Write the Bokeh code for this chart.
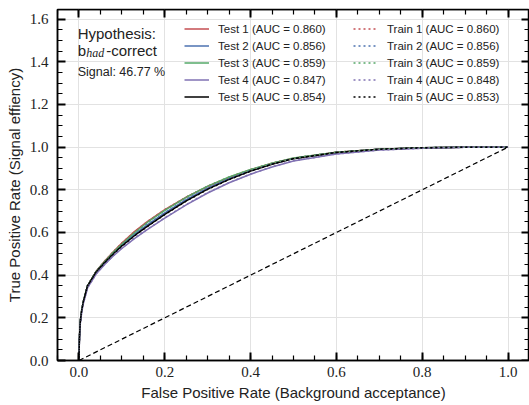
from bokeh.plotting import figure
from bokeh.models import (Range1d, LinearAxis, Legend, LegendItem, Label, FixedTicker,
                          PrintfTickFormatter, CustomJSTickFormatter)
from bokeh.embed import file_html
from bokeh.resources import INLINE

# ---------------- data ----------------
fpr = [0, 0.001, 0.003, 0.006, 0.01, 0.02, 0.04, 0.06, 0.08, 0.1, 0.13, 0.16,
       0.2, 0.25, 0.3, 0.35, 0.4, 0.45, 0.5, 0.6, 0.7, 0.8, 0.9, 1.0]

test1_tpr = [0, 0.1, 0.18, 0.23, 0.275, 0.35, 0.418, 0.466, 0.51, 0.55, 0.605, 0.652,
             0.707, 0.766, 0.816, 0.858, 0.894, 0.924, 0.948, 0.976, 0.99, 0.997, 0.9995, 1.0]
test2_tpr = [0, 0.1, 0.18, 0.23, 0.275, 0.35, 0.416, 0.462, 0.503, 0.541, 0.592, 0.637,
             0.692, 0.754, 0.808, 0.853, 0.891, 0.922, 0.947, 0.975, 0.99, 0.997, 0.9995, 1.0]
test3_tpr = [0, 0.1, 0.18, 0.23, 0.275, 0.35, 0.417, 0.464, 0.507, 0.546, 0.6, 0.648,
             0.704, 0.765, 0.817, 0.86, 0.895, 0.925, 0.949, 0.976, 0.99, 0.997, 0.9995, 1.0]
test4_tpr = [0, 0.09, 0.17, 0.22, 0.265, 0.34, 0.405, 0.45, 0.49, 0.525, 0.572, 0.614,
             0.667, 0.729, 0.785, 0.833, 0.873, 0.907, 0.935, 0.968, 0.986, 0.995, 0.9993, 1.0]
test5_tpr = [0, 0.1, 0.18, 0.23, 0.275, 0.35, 0.415, 0.46, 0.5, 0.537, 0.586, 0.63,
             0.685, 0.748, 0.803, 0.849, 0.888, 0.92, 0.946, 0.975, 0.99, 0.997, 0.9995, 1.0]

train1_tpr = [0, 0.1, 0.18, 0.23, 0.275, 0.35, 0.418, 0.466, 0.51, 0.55, 0.604, 0.652,
              0.707, 0.766, 0.816, 0.858, 0.894, 0.924, 0.948, 0.976, 0.99, 0.997, 0.9995, 1.0]
train2_tpr = [0, 0.1, 0.18, 0.23, 0.275, 0.35, 0.416, 0.462, 0.503, 0.542, 0.592, 0.638,
              0.692, 0.755, 0.808, 0.853, 0.891, 0.922, 0.947, 0.975, 0.99, 0.997, 0.9995, 1.0]
train3_tpr = [0, 0.1, 0.18, 0.23, 0.275, 0.35, 0.417, 0.464, 0.507, 0.546, 0.6, 0.648,
              0.704, 0.765, 0.817, 0.86, 0.895, 0.925, 0.949, 0.976, 0.99, 0.997, 0.9995, 1.0]
train4_tpr = [0, 0.09, 0.17, 0.22, 0.266, 0.341, 0.406, 0.451, 0.491, 0.527, 0.574, 0.616,
              0.669, 0.731, 0.787, 0.834, 0.874, 0.908, 0.936, 0.968, 0.986, 0.995, 0.9993, 1.0]
train5_tpr = [0, 0.1, 0.18, 0.23, 0.275, 0.35, 0.415, 0.459, 0.499, 0.536, 0.585, 0.629,
              0.684, 0.747, 0.802, 0.848, 0.887, 0.92, 0.946, 0.975, 0.99, 0.997, 0.9995, 1.0]

test_labels = ["Test 1 (AUC = 0.860)", "Test 2 (AUC = 0.856)", "Test 3 (AUC = 0.859)",
               "Test 4 (AUC = 0.847)", "Test 5 (AUC = 0.854)"]
train_labels = ["Train 1 (AUC = 0.860)", "Train 2 (AUC = 0.856)", "Train 3 (AUC = 0.859)",
                "Train 4 (AUC = 0.848)", "Train 5 (AUC = 0.853)"]
colors = ["#C44E52", "#4C72B0", "#55A868", "#8172B3", "#000000"]

diag_x = [0, 1]
diag_y = [0, 1]

x_major = [0.0, 0.2, 0.4, 0.6, 0.8, 1.0]
y_major = [0.0, 0.2, 0.4, 0.6, 0.8, 1.0, 1.2, 1.4, 1.6]
x_minor = [round(-0.05 + 0.05 * i, 2) for i in range(23)]
y_minor = [round(0.05 * i, 2) for i in range(33)]

X_MIN, X_MAX = -0.05, 1.05
Y_MIN, Y_MAX = 0.0, 1.645

# ---------------- figure ----------------
p = figure(width=529, height=405, output_backend="svg", toolbar_location=None,
           x_range=Range1d(X_MIN, X_MAX), y_range=Range1d(Y_MIN, Y_MAX),
           min_border_left=57, min_border_right=0, min_border_top=9, min_border_bottom=45)
p.background_fill_color = "white"
p.border_fill_color = "white"
p.outline_line_color = "black"
p.outline_line_width = 1.5

xt = FixedTicker(ticks=x_major, minor_ticks=x_minor)
yt = FixedTicker(ticks=y_major, minor_ticks=y_minor)

def style_axis(ax, ticker, show_labels):
    ax.ticker = ticker
    ax.axis_line_color = "black"
    ax.axis_line_width = 1.5
    ax.major_tick_in = 8
    ax.major_tick_out = 0
    ax.minor_tick_in = 5
    ax.minor_tick_out = 0
    ax.major_tick_line_width = 2
    ax.minor_tick_line_width = 1.2
    ax.major_tick_line_color = "black"
    ax.minor_tick_line_color = "black"
    if show_labels:
        ax.formatter = PrintfTickFormatter(format="%.1f")
        ax.major_label_text_font = "Liberation Serif"
        ax.major_label_text_font_size = "15px"
        ax.major_label_text_color = "#222222"
        ax.axis_label_text_font = "Liberation Sans"
        ax.axis_label_text_font_size = "15px"
        ax.axis_label_text_font_style = "normal"
        ax.axis_label_text_color = "#222222"
    else:
        ax.formatter = CustomJSTickFormatter(code="return ''")
        ax.major_label_standoff = 0

style_axis(p.xaxis[0], xt, True)
style_axis(p.yaxis[0], yt, True)
p.xaxis[0].axis_label = "False Positive Rate (Background acceptance)"
p.yaxis[0].axis_label = "True Positive Rate (Signal effiency)"
p.xaxis[0].major_label_standoff = 6
p.yaxis[0].major_label_standoff = 9
p.xaxis[0].axis_label_standoff = 4
p.yaxis[0].axis_label_standoff = 4

top_ax = LinearAxis(fixed_location=Y_MAX)
style_axis(top_ax, xt, False)
p.add_layout(top_ax, "above")
right_ax = LinearAxis(fixed_location=X_MAX)
style_axis(right_ax, yt, False)
p.add_layout(right_ax, "right")

p.xgrid.ticker = xt
p.ygrid.ticker = yt
p.xgrid.grid_line_color = "#e2e2e2"
p.ygrid.grid_line_color = "#e2e2e2"
p.xgrid.grid_line_width = 1
p.ygrid.grid_line_width = 1

# ---------------- lines ----------------
tests = [test1_tpr, test2_tpr, test3_tpr, test4_tpr, test5_tpr]
trains = [train1_tpr, train2_tpr, train3_tpr, train4_tpr, train5_tpr]

test_items = []
for tpr, c, lab in zip(tests, colors, test_labels):
    r = p.line(fpr, tpr, line_color=c, line_width=1.5)
    test_items.append(LegendItem(label=lab, renderers=[r]))

train_items = []
for tpr, c, lab in zip(trains, colors, train_labels):
    r = p.line(fpr, tpr, line_color=c, line_width=1.5, line_dash="2 3")
    train_items.append(LegendItem(label=lab, renderers=[r]))

p.line(diag_x, diag_y, line_color="black", line_width=1.2, line_dash="5 3")

def make_legend(items, loc):
    lg = Legend(items=items, location=loc)
    lg.border_line_alpha = 0
    lg.background_fill_alpha = 0
    lg.padding = 0
    lg.margin = 0
    lg.spacing = 2
    lg.glyph_width = 25
    lg.glyph_height = 15
    lg.label_height = 15
    lg.label_standoff = 9
    lg.label_text_font = "Liberation Sans"
    lg.label_text_font_size = "11.5px"
    lg.label_text_color = "#222222"
    return lg

p.add_layout(make_legend(test_items, (127, 256)))
p.add_layout(make_legend(train_items, (296, 256)))

# ---------------- annotations ----------------
txt_color = "#222222"
p.add_layout(Label(x=-0.003, y=1.531, text="Hypothesis:", text_font="Liberation Sans",
                   text_font_size="15px", text_color=txt_color, text_baseline="alphabetic"))
p.add_layout(Label(x=-0.003, y=1.453, text="b", text_font="Liberation Sans",
                   text_font_size="15px", text_color=txt_color, text_baseline="alphabetic"))
p.add_layout(Label(x=-0.003, y=1.453, x_offset=8.5, y_offset=-3, text="had",
                   text_font="Liberation Serif", text_font_style="italic",
                   text_font_size="12px", text_color=txt_color, text_baseline="alphabetic"))
p.add_layout(Label(x=-0.003, y=1.453, x_offset=28.5, text="-correct", text_font="Liberation Sans",
                   text_font_size="15px", text_color=txt_color, text_baseline="alphabetic"))
p.add_layout(Label(x=-0.003, y=1.352, text="Signal: 46.77 %", text_font="Liberation Sans",
                   text_font_size="12.5px", text_color=txt_color, text_baseline="alphabetic"))

open("out.html", "w").write(file_html(p, INLINE))
